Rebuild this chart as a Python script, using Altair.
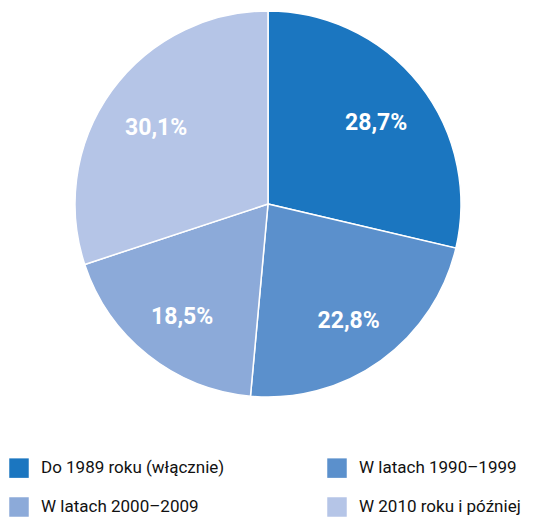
import altair as alt
import pandas as pd

# Share of buildings by construction period
periods = [
    "Do 1989 roku (włącznie)",
    "W latach 1990–1999",
    "W latach 2000–2009",
    "W 2010 roku i później",
]
shares = [28.7, 22.8, 18.5, 30.1]
colors = ["#1b76c0", "#5b90cc", "#8caad9", "#b5c5e7"]

df = pd.DataFrame({
    "okres": periods,
    "udzial": shares,
    "kolejnosc": list(range(len(periods))),
    "etykieta": [f"{v:.1f}%".replace(".", ",") for v in shares],
})

font = "Roboto"

base = alt.Chart(df).encode(
    theta=alt.Theta("udzial:Q", stack=True),
    order=alt.Order("kolejnosc:O"),
)

arcs = base.mark_arc(outerRadius=193, stroke="white", strokeWidth=1.5).encode(
    color=alt.Color(
        "okres:N",
        scale=alt.Scale(domain=periods, range=colors),
        sort=periods,
        legend=alt.Legend(
            title=None,
            orient="none",
            legendX=-66,
            legendY=447,
            direction="horizontal",
            columns=2,
            columnPadding=102,
            rowPadding=19,
            symbolType="square",
            symbolSize=380,
            symbolStrokeWidth=0,
            symbolOpacity=1,
            labelFont=font,
            labelFontSize=17,
            labelColor="#111111",
            labelOffset=12,
            labelLimit=300,
        ),
    ),
)

labels = base.mark_text(
    radius=138, dy=5, font=font, fontSize=23, fontWeight="bold", color="white"
).encode(text="etykieta:N")

chart = (
    (arcs + labels)
    .properties(
        width=386,
        height=386,
        autosize=alt.AutoSizeParams(type="none"),
        padding={"left": 75, "top": 11, "right": 73, "bottom": 121},
    )
    .configure_view(stroke=None)
)

chart.save("out.html", embed_options={"renderer": "svg", "actions": False})
